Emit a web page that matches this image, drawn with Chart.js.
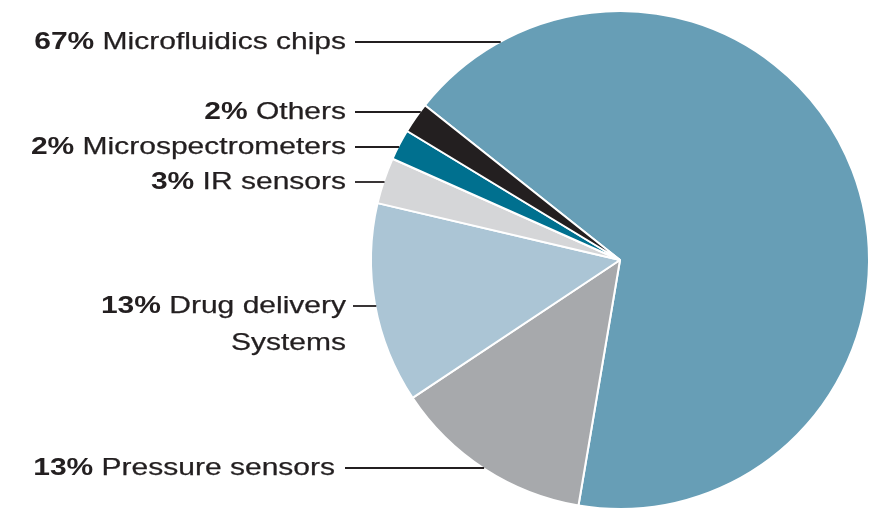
<!DOCTYPE html>
<html>
<head>
<meta charset="utf-8">
<script src="https://cdn.jsdelivr.net/npm/chart.js@4"></script>
<style>
  html, body { margin: 0; padding: 0; background: #fff; overflow: hidden; }
  #wrap { width: 870px; height: 512px; }
</style>
</head>
<body>
<div id="wrap"><canvas id="myChart" width="870" height="512"></canvas></div>
<script>
// market share by product type (%)
const categories = ['Microfluidics chips', 'Pressure sensors', 'Drug delivery Systems', 'IR sensors', 'Microspectrometers', 'Others'];
const shares = [67, 13, 13, 3, 2, 2];
const labelLines = [['Microfluidics chips'], ['Pressure sensors'], ['Drug delivery', 'Systems'], ['IR sensors'], ['Microspectrometers'], ['Others']];
const colors = ['#679eb6', '#a7a9ac', '#abc5d5', '#d5d6d8', '#00708f', '#231f20'];

// where each callout sits (layout only)
const callouts = [
  { y: 42, textRight: 346, lineStart: 355 },
  { y: 468, textRight: 335, lineStart: 345 },
  { y: 306, textRight: 346, lineStart: 353 },
  { y: 182, textRight: 346, lineStart: 355 },
  { y: 147, textRight: 346, lineStart: 355 },
  { y: 112, textRight: 346, lineStart: 355 }
];

const FONT = '"Liberation Sans", Arial, Helvetica, sans-serif';
const SX = 1.25; // the source text is horizontally stretched

const calloutPlugin = {
  id: 'callouts',
  afterDraw(chart) {
    const ctx = chart.ctx;
    const meta = chart.getDatasetMeta(0);
    ctx.save();
    meta.data.forEach((arc, i) => {
      const c = callouts[i];
      const r = arc.outerRadius;
      const dy = c.y - arc.y;
      const endX = arc.x - Math.sqrt(Math.max(r * r - dy * dy, 0)) + 1;
      ctx.strokeStyle = '#231f20';
      ctx.lineWidth = 1.8;
      ctx.beginPath();
      ctx.moveTo(c.lineStart, c.y);
      ctx.lineTo(endX, c.y);
      ctx.stroke();

      ctx.fillStyle = '#231f20';
      ctx.textBaseline = 'middle';
      labelLines[i].forEach((txt, k) => {
        const ty = c.y + k * 37;
        ctx.save();
        ctx.translate(c.textRight, ty);
        ctx.scale(SX, 1);
        ctx.textAlign = 'right';
        ctx.lineWidth = 0.25;
        if (k === 0) {
          ctx.font = '24px ' + FONT;
          const rest = ' ' + txt;
          ctx.fillText(rest, 0, 0);
          ctx.strokeText(rest, 0, 0);
          const w = ctx.measureText(rest).width;
          ctx.font = 'bold 24px ' + FONT;
          ctx.fillText(shares[i] + '%', -w, 0);
        } else {
          ctx.font = '24px ' + FONT;
          ctx.fillText(txt, 0, 0);
          ctx.strokeText(txt, 0, 0);
        }
        ctx.restore();
      });
    });
    ctx.restore();
  }
};

new Chart(document.getElementById('myChart').getContext('2d'), {
  type: 'pie',
  data: {
    labels: categories,
    datasets: [{
      data: shares,
      backgroundColor: colors,
      borderColor: '#ffffff',
      borderWidth: 2
    }]
  },
  options: {
    responsive: false,
    animation: false,
    rotation: -51.6,
    layout: { padding: { left: 370, top: 8, right: 0, bottom: 0 } },
    plugins: {
      legend: { display: false },
      tooltip: { enabled: false }
    }
  },
  plugins: [calloutPlugin]
});
</script>
</body>
</html>
